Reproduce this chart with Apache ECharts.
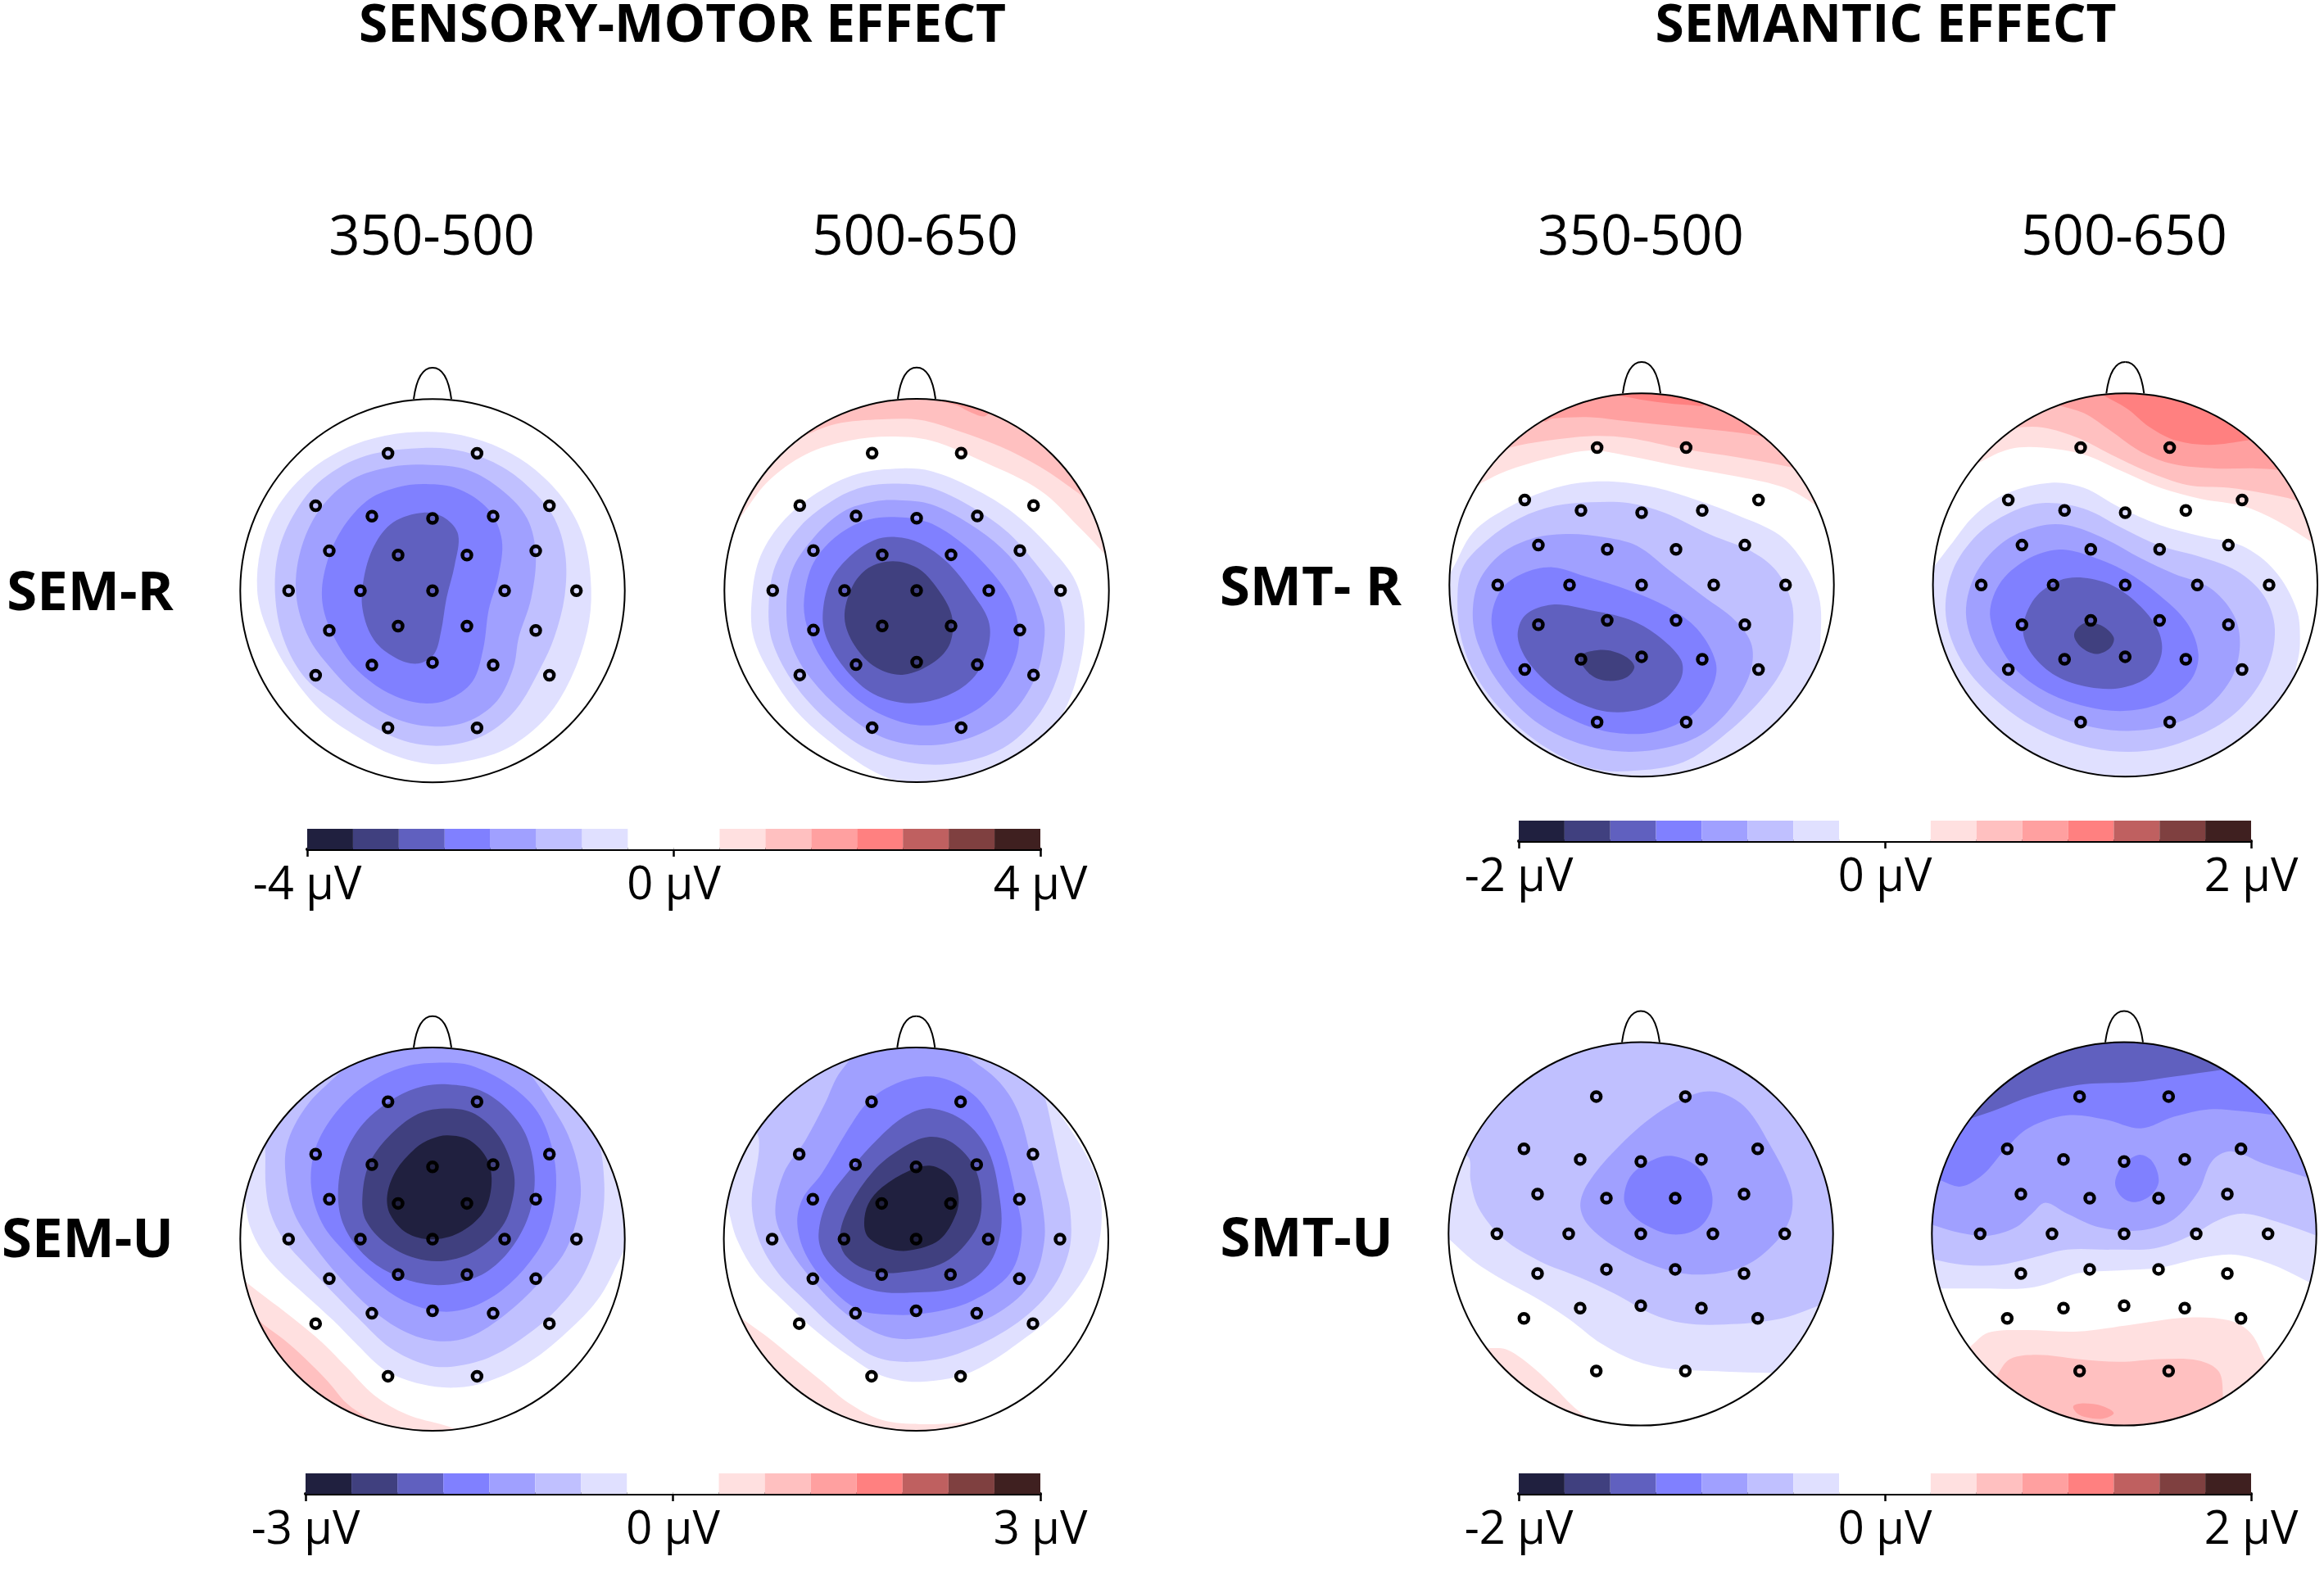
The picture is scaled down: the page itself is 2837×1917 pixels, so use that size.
<!DOCTYPE html>
<html><head><meta charset="utf-8">
<style>html,body{margin:0;padding:0;background:#fff}#c{width:2837px;height:1917px}</style>
<script src="https://cdn.jsdelivr.net/npm/echarts@6/dist/echarts.min.js"></script>
</head><body><div id="c"></div>
<script>
// Colour steps of the shared scale: index 0 is weakest, 6 is strongest
const BLUES = ['#e0e0ff','#c0c0ff','#a0a0ff','#8080ff','#6060bf','#40407f','#20203f'];
const REDS  = ['#ffe0e0','#ffc0c0','#ffa0a0','#ff8080','#bf6060','#7f4040','#3f2020'];

const colorBins = ['b6','b5','b4','b3','b2','b1','b0','w','w','r0','r1','r2','r3','r4','r5','r6'];
const edges4 = [-4,-3.5,-3,-2.5,-2,-1.5,-1,-0.5,0,0.5,1,1.5,2,2.5,3,3.5,4];
const edges3 = [-3,-2.625,-2.25,-1.875,-1.5,-1.125,-0.75,-0.375,0,0.375,0.75,1.125,1.5,1.875,2.25,2.625,3];
const edges2 = [-2,-1.75,-1.5,-1.25,-1,-0.75,-0.5,-0.25,0,0.25,0.5,0.75,1,1.25,1.5,1.75,2];

// Electrode sites (scalp units, offset from the head centre, y downwards)
const electrodes = [[-163,-496],[163,-496],[-428,-307],[428,-307],[-222,-269],[222,-269],[0,-261],
  [-378,-144],[378,-144],[-126,-129],[126,-129],[-527,0],[-264,0],[0,0],[264,0],[527,0],
  [-378,143],[378,143],[-126,128],[126,128],[-222,268],[222,268],[0,259],[-428,305],[428,305],[-163,495],[163,495]];

// Contour regions, outermost first
const semR350 = [
 ['b0',[[720,258],[850,270],[1000,320],[1120,395],[1230,510],[1300,650],[1325,830],[1310,980],[1250,1150],[1160,1290],[1020,1400],[880,1445],[740,1458],[600,1425],[470,1360],[330,1260],[210,1110],[130,950],[102,830],[115,680],[170,540],[280,410],[420,320],[570,272]]],
 ['b1',[[720,316],[860,330],[1000,385],[1110,470],[1190,570],[1230,700],[1228,850],[1190,1000],[1140,1110],[1050,1260],[940,1350],[800,1390],[660,1380],[520,1320],[400,1240],[280,1150],[200,1010],[168,850],[180,690],[240,550],[340,430],[500,345]]],
 ['b2',[[720,377],[870,395],[1000,470],[1090,570],[1122,700],[1105,860],[1060,1000],[1040,1110],[980,1230],[870,1305],[740,1322],[600,1290],[470,1210],[370,1110],[290,1000],[245,850],[260,690],[330,540],[450,430],[590,385]]],
 ['b3',[[720,447],[840,465],[950,540],[998,650],[985,780],[950,900],[930,1040],[890,1160],[800,1225],[700,1238],[580,1200],[470,1120],[400,1030],[345,900],[345,780],[400,630],[500,510],[610,460]]],
 ['b4',[[710,550],[790,570],[838,630],[825,740],[795,860],[775,980],[750,1060],[690,1095],[610,1075],[530,1010],[488,900],[492,790],[530,670],[600,585]]]
];
const semR500 = [
 ['r0',[[70,610],[100,570],[200,440],[340,340],[500,290],[650,275],[800,290],[1000,370],[1200,470],[1340,600],[1435,700],[1470,750],[1620,700],[1500,-50],[0,-50],[-80,500]]],
 ['r1',[[290,300],[320,280],[450,230],[620,213],[760,215],[900,255],[1050,310],[1200,385],[1340,480],[1380,510],[1500,400],[1300,-50],[200,-50],[180,200]]],
 ['r2',[[810,130],[900,165],[950,190],[1000,200],[1100,100],[900,50]]],
 ['b0',[[690,390],[800,400],[950,460],[1100,550],[1230,670],[1330,800],[1362,950],[1340,1120],[1280,1280],[1180,1400],[1050,1470],[900,1510],[740,1530],[600,1490],[420,1370],[300,1260],[210,1130],[150,1000],[142,880],[170,720],[250,590],[380,480],[530,410]]],
 ['b1',[[680,445],[800,460],[950,530],[1080,620],[1180,730],[1270,860],[1290,980],[1270,1120],[1200,1270],[1080,1390],[920,1450],[740,1455],[560,1400],[420,1300],[300,1170],[220,1020],[205,890],[230,740],[320,600],[450,500],[560,455]]],
 ['b2',[[680,505],[800,520],[940,590],[1060,680],[1150,790],[1210,930],[1213,1020],[1180,1150],[1090,1280],[950,1360],[780,1390],[620,1360],[480,1270],[360,1150],[290,1030],[270,900],[290,760],[370,640],[480,545],[590,510]]],
 ['b3',[[680,566],[790,585],[900,650],[1000,740],[1090,860],[1122,990],[1100,1100],[1020,1220],[900,1295],[760,1318],[620,1280],[500,1200],[400,1080],[345,960],[335,860],[370,730],[460,630],[570,575]]],
 ['b4',[[670,638],[760,660],[860,730],[950,840],[1010,940],[1010,1030],[960,1140],[860,1210],[720,1238],[590,1205],[490,1120],[420,1010],[403,920],[430,800],[500,710],[590,650]]],
 ['b5',[[660,725],[750,750],[820,820],[875,920],[870,1020],[810,1090],[700,1135],[600,1110],[520,1030],[483,930],[510,820],[570,750]]]
];
const smtR350 = [
 ['r0',[[130,490],[165,470],[250,430],[400,385],[560,355],[700,375],[900,415],[1100,450],[1270,490],[1380,550],[1430,590],[1600,500],[1400,-50],[200,-50],[-50,400]]],
 ['r1',[[230,365],[265,345],[400,320],[560,303],[700,310],[900,350],[1100,380],[1290,415],[1340,430],[1500,300],[1200,-50],[300,-50],[100,300]]],
 ['r2',[[390,250],[420,240],[560,235],[700,250],[900,270],[1050,285],[1175,302],[1220,315],[1350,150],[1000,-50],[500,-50],[300,150]]],
 ['r3',[[660,155],[680,160],[800,180],[930,192],[975,190],[1050,100],[850,40],[650,60]]],
 ['b0',[[30,810],[50,790],[130,650],[260,560],[400,500],[520,472],[650,468],[800,490],[950,535],[1100,590],[1250,660],[1340,760],[1395,880],[1403,1000],[1380,1180],[1280,1330],[1150,1430],[1000,1505],[800,1560],[500,1640],[200,1400],[-30,1100],[0,850]]],
 ['b1',[[72,900],[90,780],[180,680],[300,600],[430,555],[560,542],[700,545],[830,580],[1000,660],[1150,720],[1240,790],[1295,900],[1300,1000],[1270,1130],[1180,1260],[1040,1390],[900,1480],[740,1510],[570,1505],[400,1430],[250,1310],[140,1170],[85,1030]]],
 ['b2',[[128,950],[150,830],[230,730],[340,675],[470,657],[620,670],[730,700],[850,790],[970,880],[1090,970],[1150,1060],[1140,1170],[1060,1300],[950,1390],[800,1435],[640,1440],[480,1400],[340,1320],[220,1190],[150,1060]]],
 ['b3',[[197,980],[230,860],[310,800],[420,777],[540,810],[700,860],[840,920],[950,1000],[1018,1120],[1005,1210],[930,1310],[800,1370],[650,1375],[500,1330],[350,1240],[250,1130]]],
 ['b4',[[293,1030],[320,950],[420,912],[550,930],[700,965],[800,1020],[890,1110],[890,1180],[820,1260],[700,1298],[580,1290],[450,1230],[340,1130]]],
 ['b5',[[520,1100],[600,1075],[680,1095],[720,1135],[690,1175],[620,1187],[560,1165]]]
];
const smtR500 = [
 ['r0',[[205,420],[235,400],[350,350],[470,345],[620,370],[760,430],[900,490],[1050,530],[1200,555],[1330,610],[1460,690],[1510,730],[1700,600],[1400,-50],[300,-50],[0,300]]],
 ['r1',[[330,290],[360,275],[470,272],[600,310],[720,370],[850,430],[1000,480],[1150,490],[1280,510],[1395,535],[1440,560],[1600,400],[1200,-50],[500,-50],[200,200]]],
 ['r2',[[490,180],[520,190],[620,220],[720,285],[830,360],[950,405],[1100,420],[1250,420],[1330,425],[1380,435],[1500,250],[1100,-50],[600,-50],[400,80]]],
 ['r3',[[660,135],[690,155],[780,205],[860,270],[960,320],[1080,335],[1225,318],[1280,310],[1350,150],[1000,-30],[700,-30]]],
 ['b0',[[45,800],[75,770],[130,700],[220,590],[340,510],[500,472],[620,490],[750,560],[900,625],[1050,665],[1200,700],[1320,790],[1400,930],[1412,1050],[1400,1130],[1340,1340],[1200,1520],[950,1650],[600,1650],[200,1450],[0,1200],[10,900]]],
 ['b1',[[115,950],[140,790],[230,660],[350,580],[470,545],[620,565],[770,640],[900,700],[1050,740],[1180,790],[1280,880],[1320,1000],[1290,1150],[1190,1290],[1040,1385],[850,1440],[650,1430],[450,1360],[280,1240],[170,1110]]],
 ['b2',[[190,960],[220,810],[320,690],[450,630],[560,625],[700,675],[830,745],[950,800],[1080,850],[1170,950],[1192,1060],[1160,1180],[1060,1290],[900,1355],[720,1365],[540,1320],[380,1230],[250,1110]]],
 ['b3',[[278,960],[310,840],[410,750],[530,713],[640,735],[770,790],[900,880],[1000,980],[1040,1090],[1015,1180],[920,1260],[780,1295],[630,1280],[470,1220],[350,1120]]],
 ['b4',[[398,1000],[440,890],[530,825],[620,815],[730,845],[830,920],[895,1010],[905,1090],[860,1170],[760,1212],[640,1210],[520,1170],[430,1090]]],
 ['b5',[[585,1020],[620,980],[680,985],[730,1030],[715,1070],[665,1090],[610,1065]]]
];
const semU350 = [
 ['r0',[[40,975],[65,995],[130,1045],[230,1120],[340,1210],[430,1300],[530,1400],[650,1470],[790,1510],[850,1530],[920,1550],[800,1700],[300,1650],[-50,1200]]],
 ['r1',[[100,1125],[125,1145],[200,1200],[280,1270],[360,1350],[430,1430],[510,1485],[560,1515],[450,1650],[100,1400]]],
 ['b0',[[45,660],[55,690],[75,790],[120,880],[180,950],[280,1040],[380,1130],[470,1220],[570,1310],[700,1360],[830,1373],[950,1350],[1100,1280],[1250,1160],[1360,1040],[1445,880],[1480,830],[1650,700],[1450,-50],[100,-50],[-80,500]]],
 ['b1',[[133,640],[150,740],[200,840],[280,930],[370,1020],[470,1120],[590,1230],[720,1290],[810,1298],[950,1265],[1080,1190],[1200,1090],[1300,960],[1360,790],[1373,640],[1350,470],[1290,340],[1250,290],[1100,-50],[300,-50],[100,300],[130,500]]],
 ['b2',[[210,640],[240,750],[310,860],[400,970],[520,1090],[640,1170],[760,1205],[880,1190],[1010,1110],[1130,1000],[1230,880],[1282,720],[1282,600],[1240,460],[1170,340],[1100,240],[1040,180],[900,40],[600,40],[500,150],[400,240],[280,360],[210,500]]],
 ['b3',[[790,200],[900,215],[1040,290],[1130,380],[1180,500],[1197,640],[1170,800],[1100,920],[1000,1020],[880,1085],[770,1098],[640,1060],[530,985],[420,880],[340,780],[300,650],[315,510],[390,380],[500,280],[640,215]]],
 ['b4',[[800,278],[920,300],[1020,370],[1090,470],[1118,610],[1100,740],[1040,860],[950,950],[840,995],[720,1000],[590,960],[490,890],[420,790],[398,680],[420,540],[490,420],[610,325],[710,285]]],
 ['b5',[[800,365],[900,385],[990,470],[1040,590],[1040,680],[1000,790],[900,880],[790,915],[680,905],[570,850],[500,770],[487,690],[510,570],[580,470],[690,385]]],
 ['b6',[[800,462],[880,480],[945,550],[960,640],[930,740],[840,815],[740,838],[650,815],[590,750],[578,680],[610,590],[680,510],[740,475]]]
];
const semU500 = [
 ['r0',[[85,1105],[110,1125],[200,1190],[300,1270],[400,1350],[500,1430],[620,1490],[760,1505],[900,1500],[1000,1490],[1050,1485],[900,1700],[300,1650],[0,1300]]],
 ['b0',[[45,680],[55,720],[90,840],[160,960],[260,1060],[380,1170],[500,1260],[620,1330],[760,1352],[950,1315],[1150,1190],[1300,1060],[1400,900],[1425,740],[1400,600],[1310,440],[1220,320],[1170,270],[1000,-50],[400,-50],[-80,400]]],
 ['b1',[[143,700],[170,840],[240,960],[340,1060],[460,1170],[590,1260],[730,1280],[900,1250],[1100,1150],[1240,1020],[1305,880],[1310,740],[1280,610],[1250,470],[1215,320],[1190,280],[1000,-50],[400,-50],[120,350],[170,480]]],
 ['b2',[[230,750],[280,870],[370,990],[480,1100],[610,1180],[720,1198],[880,1170],[1050,1100],[1170,990],[1215,840],[1205,700],[1170,560],[1120,380],[1050,270],[950,190],[850,120],[600,110],[470,230],[410,350],[340,480],[260,600]]],
 ['b3',[[310,780],[340,890],[420,1000],[530,1090],[650,1110],[780,1105],[950,1060],[1090,960],[1132,820],[1110,680],[1060,490],[980,340],[870,265],[770,250],[660,280],[570,340],[490,450],[400,600],[330,690]]],
 ['b4',[[388,820],[410,900],[490,980],[600,1025],[730,1030],[900,1010],[1010,930],[1055,810],[1050,680],[1010,520],[920,410],[800,365],[710,390],[610,470],[500,590],[420,700]]],
 ['b5',[[465,830],[490,900],[570,950],[680,958],[850,920],[960,810],[985,710],[960,580],[880,490],[790,468],[690,510],[590,590],[500,720]]],
 ['b6',[[555,780],[570,830],[640,870],[720,878],[830,840],[890,750],[900,680],[870,610],[800,572],[720,590],[620,650],[570,710]]]
];
const smtU350 = [
 ['r0',[[170,1245],[190,1245],[250,1250],[330,1300],[420,1380],[500,1460],[560,1505],[590,1530],[300,1650],[60,1350]]],
 ['b0',[[20,835],[45,855],[130,930],[240,1000],[370,1070],[480,1140],[600,1230],[720,1290],[850,1320],[1050,1330],[1215,1335],[1280,1335],[1650,1200],[1650,400],[744,-50],[-80,300],[-60,750]]],
 ['b1',[[70,520],[115,560],[120,640],[150,740],[240,850],[370,930],[520,990],[650,1050],[780,1120],[900,1155],[1050,1160],[1250,1140],[1400,1090],[1460,1060],[1650,1000],[1650,400],[744,-50],[150,200]]],
 ['b2',[[522,730],[550,650],[650,530],[800,400],[950,325],[1040,325],[1130,380],[1210,500],[1290,660],[1295,760],[1240,860],[1120,950],[950,980],[800,950],[650,880],[550,800]]],
 ['b3',[[682,700],[710,620],[790,565],[860,552],[950,590],[1000,670],[1000,750],[950,815],[860,835],[760,800],[700,750]]]
];
const smtU500 = [
 ['r0',[[175,1265],[205,1240],[270,1190],[400,1180],[600,1185],[800,1160],[1000,1135],[1150,1145],[1230,1190],[1280,1280],[1300,1330],[1250,1500],[1100,1680],[400,1680],[150,1420]]],
 ['r1',[[290,1370],[305,1340],[350,1285],[450,1270],[600,1285],[750,1295],[900,1285],[1040,1290],[1115,1330],[1130,1420],[1125,1470],[1000,1620],[500,1620],[300,1470]]],
 ['r2',[[582,1455],[620,1445],[690,1455],[730,1480],[690,1500],[630,1495],[595,1480]]],
 ['b0',[[70,1030],[105,1030],[250,1030],[400,1030],[480,1015],[600,975],[750,965],[900,955],[1050,920],[1170,908],[1300,940],[1440,1005],[1500,1040],[1700,1000],[1600,-100],[-100,-100],[-100,1000]]],
 ['b1',[[30,915],[70,925],[180,945],[310,945],[430,920],[560,890],[720,890],[880,885],[1010,840],[1120,780],[1210,760],[1330,790],[1475,840],[1530,860],[1700,800],[1600,-100],[-100,-100],[-100,900]]],
 ['b2',[[30,790],[65,800],[170,830],[270,840],[370,810],[430,760],[480,720],[560,760],[680,810],[830,820],[950,780],[1040,680],[1090,570],[1160,535],[1280,580],[1440,630],[1500,650],[1700,600],[1600,-100],[-100,-100],[-100,700]]],
 ['b3',[[60,625],[95,640],[170,662],[250,620],[330,530],[420,450],[560,405],[700,420],[830,452],[950,410],[1080,383],[1200,390],[1320,405],[1370,415],[1600,300],[1400,-100],[100,-100],[-100,500]]],
 ['b3',[[735,650],[760,590],[820,548],[870,570],[895,640],[870,690],[810,718],[760,700]]],
 ['b4',[[180,425],[210,415],[300,385],[430,335],[600,295],[800,285],[950,265],[1130,240],[1180,230],[1300,80],[800,-50],[300,50],[100,300]]]
];

const heads = [
 {contours:semR350, view:[744,832],   box:[528,721.3]},
 {contours:semR500, view:[747,831],   box:[1119,721]},
 {contours:smtR350, view:[746.5,841], box:[2004,714.3]},
 {contours:smtR500, view:[772,841],   box:[2594.3,714.3]},
 {contours:semU350, view:[744,837],   box:[528,1513]},
 {contours:semU500, view:[745,837],   box:[1118.3,1513]},
 {contours:smtU350, view:[743.5,833], box:[2003,1506.6]},
 {contours:smtU500, view:[768,833],   box:[2593,1506.6]}
];
const colorbars = [
 {edges:edges4, range:4, left:375,  right:1270, top:1012},
 {edges:edges2, range:2, left:1854, right:2748, top:1002},
 {edges:edges3, range:3, left:373,  right:1270, top:1799},
 {edges:edges2, range:2, left:1854, right:2748, top:1799}
];
const texts = [
 {t:'SENSORY-MOTOR EFFECT', x:833,  y:33,  f:'bold 64px'},
 {t:'SEMANTIC EFFECT',      x:2302, y:33,  f:'bold 64px'},
 {t:'350-500', x:527,  y:292, f:'67px'}, {t:'500-650', x:1117, y:292, f:'67px'},
 {t:'350-500', x:2003, y:292, f:'67px'}, {t:'500-650', x:2593, y:292, f:'67px'},
 {t:'SEM-R',  x:110,  y:726,  f:'bold 67px'},
 {t:'SMT- R', x:1600, y:720,  f:'bold 67px'},
 {t:'SEM-U',  x:107,  y:1516, f:'bold 67px'},
 {t:'SMT-U',  x:1595, y:1515, f:'bold 67px'}
];

const RX = 704, RY = 692, PXX = 234.7, PXY = 234;
const colorOf = k => k[0]==='b' ? BLUES[+k[1]] : k[0]==='r' ? REDS[+k[1]] : '#ffffff';
const grid=[], xAxis=[], yAxis=[], series=[];

heads.forEach((h,i)=>{
  const [vx,vy]=h.view, [bx,by]=h.box;
  grid.push({left:bx-PXX, top:by-PXY, width:PXX*2, height:PXY*2, containLabel:false});
  xAxis.push({gridIndex:i,type:'value',min:vx-RX,max:vx+RX,show:false});
  yAxis.push({gridIndex:i,type:'value',min:vy-RY,max:vy+RY,inverse:true,show:false});
  series.push({
    type:'custom', coordinateSystem:'cartesian2d', xAxisIndex:i, yAxisIndex:i, silent:true, clip:false, z:2,
    data:h.contours.map((c,j)=>[vx,vy,j]),
    renderItem(params,api){
      const c=h.contours[params.dataIndex];
      const ctr=api.coord([vx,vy]), edge=api.coord([vx+RX,vy+RY]);
      return {type:'polygon',
        shape:{points:c[1].map(p=>api.coord(p)),smooth:0.34},
        style:{fill:colorOf(c[0])},
        clipPath:{type:'ellipse',shape:{cx:ctr[0],cy:ctr[1],rx:edge[0]-ctr[0],ry:edge[1]-ctr[1]}}};
    }
  });
  series.push({
    type:'custom', coordinateSystem:'cartesian2d', xAxisIndex:i, yAxisIndex:i, silent:true, clip:false, z:3,
    data:[[vx,vy]],
    renderItem(params,api){
      const ctr=api.coord([vx,vy]), edge=api.coord([vx+RX,vy+RY]);
      const P=(dx,dy)=>api.coord([vx+dx,vy+dy]);
      const a=P(-69,-692),c1=P(-58,-772),c2=P(-35,-805),t=P(0,-805),c3=P(35,-805),c4=P(58,-772),b=P(69,-692);
      const st={fill:null,stroke:'#000',lineWidth:2};
      return {type:'group',children:[
        {type:'ellipse',shape:{cx:ctr[0],cy:ctr[1],rx:edge[0]-ctr[0],ry:edge[1]-ctr[1]},style:{fill:'none',stroke:'#000',lineWidth:2}},
        {type:'bezierCurve',shape:{x1:a[0],y1:a[1],cpx1:c1[0],cpy1:c1[1],cpx2:c2[0],cpy2:c2[1],x2:t[0],y2:t[1]},style:st},
        {type:'bezierCurve',shape:{x1:t[0],y1:t[1],cpx1:c3[0],cpy1:c3[1],cpx2:c4[0],cpy2:c4[1],x2:b[0],y2:b[1]},style:st}
      ]};
    }
  });
  series.push({
    type:'scatter', xAxisIndex:i, yAxisIndex:i, silent:true, z:4, clip:false,
    symbol:'circle', symbolSize:11,
    itemStyle:{color:'rgba(0,0,0,0)',borderColor:'#000',borderWidth:4.5,opacity:1},
    data:electrodes.map(e=>[vx+e[0],vy+e[1]])
  });
});

colorbars.forEach((cb,k)=>{
  const i=heads.length+k;
  grid.push({left:cb.left, top:cb.top, width:cb.right-cb.left, height:25});
  xAxis.push({gridIndex:i,type:'value',min:-cb.range,max:cb.range,interval:cb.range,position:'bottom',
    splitLine:{show:false},
    axisLine:{show:true,onZero:false,lineStyle:{color:'#000',width:4}},
    axisTick:{show:true,length:9,lineStyle:{color:'#000',width:2.5}},
    axisLabel:{show:true,margin:17,fontFamily:'Open Sans',fontSize:56,color:'#000',
      formatter:v=>v+' µV',showMinLabel:true,showMaxLabel:true,hideOverlap:false}});
  yAxis.push({gridIndex:i,type:'value',min:0,max:1,show:false});
  series.push({
    type:'custom', coordinateSystem:'cartesian2d', xAxisIndex:i, yAxisIndex:i, silent:true, z:2,
    data:colorBins.map((c,j)=>[cb.edges[j],cb.edges[j+1],j]),
    renderItem(params,api){
      const a=api.coord([api.value(0),1]), b=api.coord([api.value(1),0]);
      return {type:'rect',shape:{x:a[0],y:a[1],width:b[0]-a[0],height:b[1]-a[1]},
        style:{fill:colorOf(colorBins[params.dataIndex])}};
    }
  });
});

const chart=echarts.init(document.getElementById('c'),null,{renderer:'canvas',width:2837,height:1917});
chart.setOption({
  animation:false, backgroundColor:'#ffffff', tooltip:{show:false},
  grid, xAxis, yAxis, series,
  graphic:texts.map(o=>({type:'text',x:o.x,y:o.y,silent:true,z:10,
    style:{text:o.t,fill:'#000',align:'center',verticalAlign:'middle',
      font:o.f+' "Open Sans"'}}))
});
</script></body></html>
